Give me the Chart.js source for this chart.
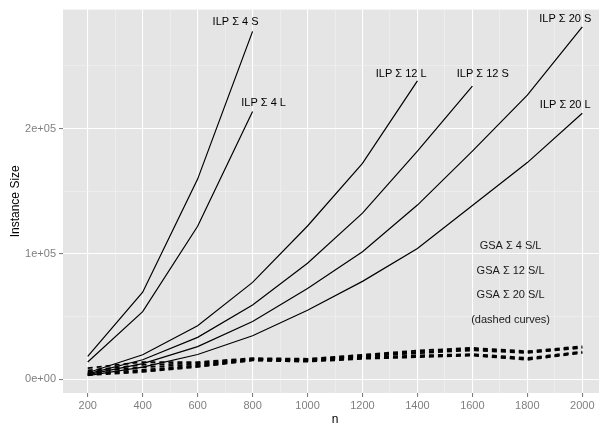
<!DOCTYPE html>
<html>
<head>
<meta charset="utf-8">
<script src="https://cdn.jsdelivr.net/npm/chart.js@4/dist/chart.umd.min.js"></script>
<style>
  html, body { margin: 0; padding: 0; background: #ffffff; overflow: hidden; }
  #wrap { position: relative; width: 612px; height: 427px; }
</style>
</head>
<body>
<div id="wrap"><canvas id="c"></canvas></div>
<script>
// Problem sizes n
const nValues = [200, 400, 600, 800, 1000, 1200, 1400, 1600, 1800, 2000];

// ILP formulations (solid curves)
const ilp4S  = [18200, 69500, 159700, 277600];
const ilp4L  = [13700, 53900, 122100, 213700];
const ilp12L = [5200, 19500, 42600, 77300, 122300, 172300, 238100];
const ilp12S = [4300, 15500, 33400, 59200, 92600, 132600, 182100, 233900];
const ilp20S = [3600, 12400, 26000, 46000, 72400, 101800, 139000, 182100, 226800, 281200];
const ilp20L = [2900, 9700, 19700, 34700, 55000, 78100, 104400, 138600, 172900, 212300];

// GSA formulations (dashed curves)
const gsa4S  = [8900, 13700, 13700, 16800, 16300, 19500, 22900, 25000, 22300, 26300];
const gsa12S = [7000, 11500, 12800, 16300, 15600, 18700, 21800, 24000, 21500, 25500];
const gsa20S = [5800, 9500, 12000, 15800, 15000, 18000, 20800, 23000, 21000, 25000];
const gsa4L  = [4500, 7500, 11000, 15500, 14600, 17200, 19000, 20000, 17000, 22000];
const gsa12L = [3900, 6600, 10300, 15200, 14400, 16800, 18300, 19300, 16000, 21500];
const gsa20L = [3200, 5800, 9800, 15000, 14000, 16300, 17600, 18900, 15500, 21000];

// Axis ticks
const xTicks = [200, 400, 600, 800, 1000, 1200, 1400, 1600, 1800, 2000];
const yTicks = [0, 100000, 200000];

// Curve annotations
const curveLabels = ['ILP \u03A3 4 S', 'ILP \u03A3 4 L', 'ILP \u03A3 12 L', 'ILP \u03A3 12 S', 'ILP \u03A3 20 S', 'ILP \u03A3 20 L'];
const gsaLabels = ['GSA \u03A3 4 S/L', 'GSA \u03A3 12 S/L', 'GSA \u03A3 20 S/L', '(dashed curves)'];

// where each annotation sits, in data units (n, size)
const curveLabelAt = [[738, 285500], [840, 220200], [1341, 243900], [1638, 243900], [1938, 287800], [1938, 218900]];
const gsaLabelAt = [[1739, 106500], [1739, 86600], [1739, 67100], [1739, 47400]];

const toPoints = vals => vals.map((v, i) => ({ x: nValues[i], y: v }));

const solid = (label, vals) => ({
  label, data: toPoints(vals),
  borderColor: '#000000', borderWidth: 1.2, pointRadius: 0, tension: 0, fill: false
});
const dashed = (label, vals) => ({
  label, data: toPoints(vals),
  borderColor: '#000000', borderWidth: 1.8, borderDash: [5, 4], pointRadius: 0, tension: 0, fill: false
});

function sci(v) {
  if (v === 0) return '0e+00';
  const e = Math.floor(Math.log10(Math.abs(v)));
  const m = Math.round(v / Math.pow(10, e) * 100) / 100;
  return m + 'e' + (e >= 0 ? '+' : '-') + String(Math.abs(e)).padStart(2, '0');
}

const panelBg = {
  id: 'panelBg',
  beforeDraw(chart) {
    const { ctx, chartArea: a } = chart;
    ctx.save();
    ctx.fillStyle = '#e5e5e5';
    ctx.fillRect(a.left, a.top, a.right - a.left, a.bottom - a.top);
    ctx.restore();
  }
};

const annotations = {
  id: 'annotations',
  afterDatasetsDraw(chart) {
    const { ctx, scales: { x, y } } = chart;
    ctx.save();
    ctx.font = '11px "Liberation Sans", Arial, sans-serif';
    ctx.textAlign = 'center';
    ctx.textBaseline = 'middle';
    ctx.fillStyle = '#000000';
    curveLabels.forEach((t, i) => {
      ctx.fillText(t, x.getPixelForValue(curveLabelAt[i][0]), y.getPixelForValue(curveLabelAt[i][1]));
    });
    ctx.fillStyle = '#1a1a1a';
    gsaLabels.forEach((t, i) => {
      ctx.fillText(t, x.getPixelForValue(gsaLabelAt[i][0]), y.getPixelForValue(gsaLabelAt[i][1]));
    });
    ctx.restore();
  }
};

const xMajor = v => xTicks.includes(v);
const yMajor = v => yTicks.includes(v);

new Chart(document.getElementById('c'), {
  type: 'line',
  data: {
    datasets: [
      solid(curveLabels[0], ilp4S),
      solid(curveLabels[1], ilp4L),
      solid(curveLabels[2], ilp12L),
      solid(curveLabels[3], ilp12S),
      solid(curveLabels[4], ilp20S),
      solid(curveLabels[5], ilp20L),
      dashed('GSA \u03A3 4 S', gsa4S),
      dashed('GSA \u03A3 12 S', gsa12S),
      dashed('GSA \u03A3 20 S', gsa20S),
      dashed('GSA \u03A3 4 L', gsa4L),
      dashed('GSA \u03A3 12 L', gsa12L),
      dashed('GSA \u03A3 20 L', gsa20L)
    ]
  },
  options: {
    responsive: true,
    maintainAspectRatio: false,
    devicePixelRatio: 1,
    animation: false,
    events: [],
    layout: { padding: { top: 5, right: 5, left: 0, bottom: 0 } },
    plugins: { legend: { display: false }, tooltip: { enabled: false } },
    scales: {
      x: {
        type: 'linear',
        min: 110,
        max: 2090,
        afterBuildTicks(scale) {
          const t = [];
          for (let v = 200; v <= 2000; v += 100) t.push({ value: v });
          scale.ticks = t;
        },
        afterFit(scale) { scale.height = 34; },
        border: { display: false },
        grid: {
          color: c => xMajor(c.tick.value) ? '#ffffff' : '#f2f2f2',
          lineWidth: c => xMajor(c.tick.value) ? 1.1 : 0.6,
          tickColor: c => xMajor(c.tick.value) ? '#7f7f7f' : 'rgba(0,0,0,0)',
          tickLength: 4
        },
        ticks: {
          autoSkip: false,
          maxRotation: 0,
          padding: 2,
          color: '#7f7f7f',
          font: { family: '"Liberation Sans", Arial, sans-serif', size: 11 },
          callback: v => xMajor(v) ? String(v) : ''
        },
        title: {
          display: true,
          text: 'n',
          color: '#000000',
          padding: { top: 0, bottom: 0 },
          font: { family: '"Liberation Sans", Arial, sans-serif', size: 12 }
        }
      },
      y: {
        type: 'linear',
        min: -11000,
        max: 295000,
        afterBuildTicks(scale) {
          scale.ticks = [0, 50000, 100000, 150000, 200000, 250000].map(v => ({ value: v }));
        },
        afterFit(scale) { scale.width = 63; },
        border: { display: false },
        grid: {
          color: c => yMajor(c.tick.value) ? '#ffffff' : '#f2f2f2',
          lineWidth: c => yMajor(c.tick.value) ? 1.1 : 0.6,
          tickColor: c => yMajor(c.tick.value) ? '#7f7f7f' : 'rgba(0,0,0,0)',
          tickLength: 4
        },
        ticks: {
          autoSkip: false,
          padding: 3,
          color: '#7f7f7f',
          font: { family: '"Liberation Sans", Arial, sans-serif', size: 11 },
          callback: v => yMajor(v) ? sci(v) : ''
        },
        title: {
          display: true,
          text: 'Instance Size',
          color: '#000000',
          padding: { top: 8, bottom: 0 },
          font: { family: '"Liberation Sans", Arial, sans-serif', size: 12 }
        }
      }
    }
  },
  plugins: [panelBg, annotations]
});
</script>
</body>
</html>
